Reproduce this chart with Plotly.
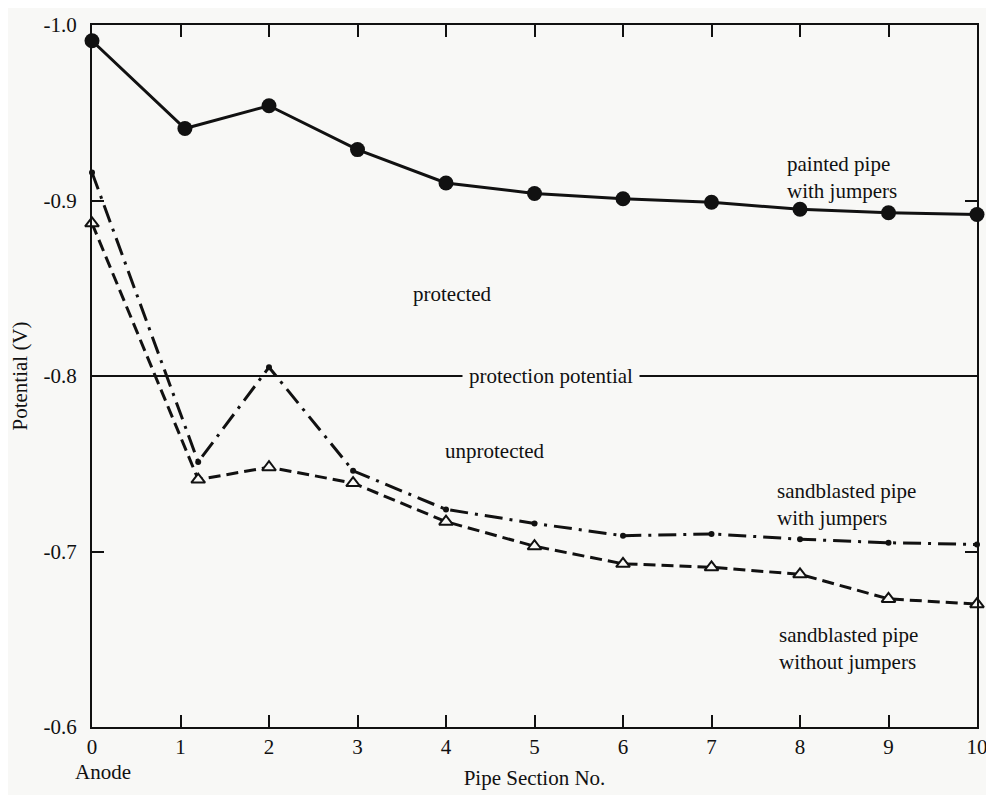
import plotly.graph_objects as go

# ---- data ----
painted_x = [0, 1.05, 2, 3, 4, 5, 6, 7, 8, 9, 10]
painted_y = [-0.991, -0.941, -0.954, -0.929, -0.910, -0.904, -0.901, -0.899, -0.895, -0.893, -0.892]

sb_with_x = [0, 1.2, 2, 2.95, 4, 5, 6, 7, 8, 9, 10]
sb_with_y = [-0.916, -0.751, -0.805, -0.746, -0.724, -0.716, -0.709, -0.710, -0.707, -0.705, -0.704]

sb_without_x = [0, 1.2, 2, 2.95, 4, 5, 6, 7, 8, 9, 10]
sb_without_y = [-0.887, -0.741, -0.748, -0.739, -0.717, -0.703, -0.693, -0.691, -0.687, -0.673, -0.670]

protection_potential = -0.80
x_range = [0, 10]

x_ticks = [0, 1, 2, 3, 4, 5, 6, 7, 8, 9, 10]
x_ticklabels = ["0", "1", "2", "3", "4", "5", "6", "7", "8", "9", "10"]
y_ticks = [-1.0, -0.9, -0.8, -0.7, -0.6]
y_ticklabels = ["-1.0", "-0.9", "-0.8", "-0.7", "-0.6"]

BG = "#f8f8f6"
INK = "#111111"
FONT = "Liberation Serif"

fig = go.Figure()

# protection potential line
fig.add_trace(go.Scatter(
    x=x_range, y=[protection_potential, protection_potential],
    mode="lines", line=dict(color=INK, width=2), hoverinfo="skip", showlegend=False,
    cliponaxis=False))

fig.add_trace(go.Scatter(
    x=painted_x, y=painted_y, mode="lines+markers",
    line=dict(color=INK, width=3),
    marker=dict(symbol="circle", size=15, color=INK),
    name="painted pipe with jumpers", showlegend=False, cliponaxis=False))

fig.add_trace(go.Scatter(
    x=sb_with_x, y=sb_with_y, mode="lines+markers",
    line=dict(color=INK, width=3, dash="18px,7px,3px,7px"),
    marker=dict(symbol="circle", size=6, color=INK),
    name="sandblasted pipe with jumpers", showlegend=False, cliponaxis=False))

fig.add_trace(go.Scatter(
    x=sb_without_x, y=sb_without_y, mode="lines+markers",
    line=dict(color=INK, width=3, dash="12px,6px"),
    marker=dict(symbol="triangle-up", size=12, color=BG, line=dict(color=INK, width=2)),
    name="sandblasted pipe without jumpers", showlegend=False, cliponaxis=False))

tf = dict(family=FONT, size=21, color=INK)
annots = [
    dict(x=5.19, y=protection_potential, text="protection potential", bgcolor=BG, borderpad=6),
    dict(x=4.07, y=-0.847, text="protected"),
    dict(x=4.55, y=-0.757, text="unprotected"),
    dict(x=8.48, y=-0.913, text="painted pipe<br>with jumpers", align="left"),
    dict(x=8.53, y=-0.727, text="sandblasted pipe<br>with jumpers", align="left"),
    dict(x=8.55, y=-0.645, text="sandblasted pipe<br>without jumpers", align="left"),
]
for a in annots:
    fig.add_annotation(xref="x", yref="y", showarrow=False, font=tf, **a)

fig.add_annotation(xref="x", yref="paper", x=0.12, y=0, yanchor="middle", yshift=-45,
                   text="Anode", showarrow=False, font=tf)

fig.update_layout(
    width=994, height=795,
    margin=dict(l=84, r=25, t=17, b=76, autoexpand=False),
    paper_bgcolor=BG, plot_bgcolor=BG,
    font=dict(family=FONT, size=21, color=INK),
    xaxis=dict(range=x_range, tickmode="array", tickvals=x_ticks, ticktext=x_ticklabels,
               ticks="inside", ticklen=12, tickwidth=2, tickcolor=INK,
               showline=True, linecolor=INK, linewidth=2, mirror="ticks",
               showgrid=False, zeroline=False, ticklabelstandoff=0, automargin=False,
               title=dict(text="Pipe Section No.", font=tf, standoff=12),
               tickfont=dict(family=FONT, size=21, color=INK)),
    yaxis=dict(range=[-0.6, -1.0], tickmode="array", tickvals=y_ticks, ticktext=y_ticklabels,
               ticks="inside", ticklen=12, tickwidth=2, tickcolor=INK,
               showline=True, linecolor=INK, linewidth=2, mirror="ticks",
               showgrid=False, zeroline=False, ticklabelstandoff=9, automargin=False,
               title=dict(text="Potential (V)", font=tf, standoff=14),
               tickfont=dict(family=FONT, size=21, color=INK)),
)

fig.write_html("out.html")
